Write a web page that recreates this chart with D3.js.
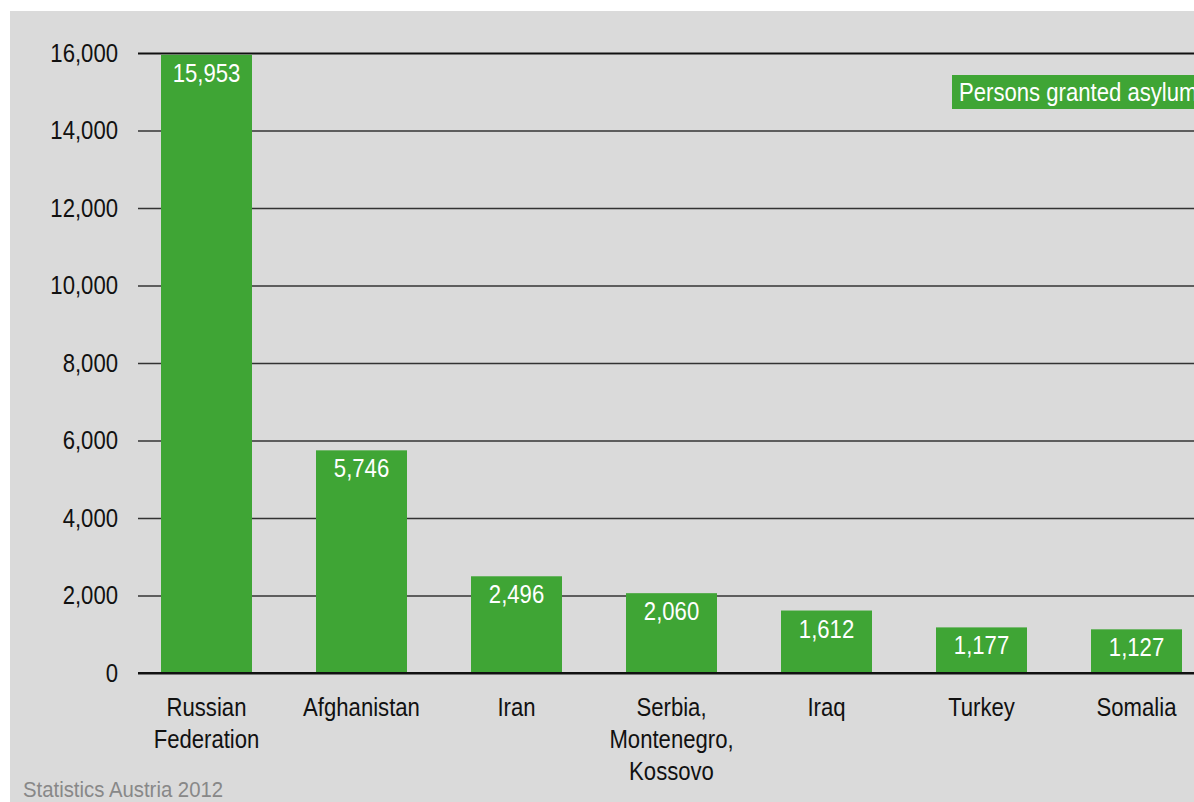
<!DOCTYPE html>
<html><head><meta charset="utf-8">
<script src="https://cdn.jsdelivr.net/npm/d3@7"></script>
<style>
html,body{margin:0;padding:0;background:#fff;}
svg{display:block;}
text{font-family:"Liberation Sans",Arial,sans-serif;}
</style></head>
<body>
<svg id="c" width="1194" height="802"></svg>
<script>
const categories = [["Russian","Federation"],["Afghanistan"],["Iran"],["Serbia,","Montenegro,","Kossovo"],["Iraq"],["Turkey"],["Somalia"]];
const values = [15953, 5746, 2496, 2060, 1612, 1177, 1127];
const yTicks = [0, 2000, 4000, 6000, 8000, 10000, 12000, 14000, 16000];
const seriesName = "Persons granted asylum";
const sourceText = "Statistics Austria 2012";

const SX = 0.885; // horizontal condensing to mimic a condensed face
const svg = d3.select("#c");
svg.append("rect").attr("x",10).attr("y",11).attr("width",1184).attr("height",791).attr("fill","#dadada");

const keys = categories.map((c,i)=>String(i));
const x = d3.scaleBand().domain(keys).range([129,1214]).paddingInner(64/155).paddingOuter(32/155);
const y = d3.scaleLinear().domain([0,16000]).range([673,53]);
const fmt = d3.format(",");

// gridlines + y labels
const yAxis = d3.axisLeft(y).tickValues(yTicks).tickSize(-(1194-138)).tickFormat(fmt).tickPadding(20);
const gy = svg.append("g").attr("transform","translate(138,0)").call(yAxis);
gy.select(".domain").remove();
gy.selectAll(".tick line").attr("stroke",d=> (d===0||d===16000)?"#111":"#333").attr("stroke-width",d=>(d===0||d===16000)?2:1.6);
gy.selectAll(".tick text").attr("font-size",25).attr("fill","#111")
  .attr("x",0).attr("transform",`translate(-20,0) scale(${SX},1)`);

// bars
svg.append("g").selectAll("rect").data(values).join("rect")
  .attr("x",(d,i)=>x(String(i))).attr("width",x.bandwidth())
  .attr("y",d=>y(d)).attr("height",d=>y(0)-y(d)).attr("fill","#3fa535");
svg.append("line").attr("x1",138).attr("x2",1194).attr("y1",y(0)).attr("y2",y(0)).attr("stroke","#111").attr("stroke-width",2);

// value labels
svg.append("g").selectAll("text").data(values).join("text")
  .attr("transform",(d,i)=>`translate(${x(String(i))+x.bandwidth()/2},${y(d)+27}) scale(${SX},1)`)
  .attr("text-anchor","middle").attr("fill","#fff").attr("font-size",25).text(d=>fmt(d));

// category labels
const cl = svg.append("g").selectAll("text").data(categories).join("text")
  .attr("transform",(d,i)=>`translate(${x(String(i))+x.bandwidth()/2},716) scale(${SX},1)`)
  .attr("text-anchor","middle").attr("fill","#111").attr("font-size",25);
cl.selectAll("tspan").data(d=>d).join("tspan")
  .attr("x",0).attr("dy",(d,i)=>i===0?0:32).text(d=>d);

// legend
svg.append("rect").attr("x",952).attr("y",75).attr("width",260).attr("height",34).attr("fill","#3fa535");
svg.append("text").attr("transform",`translate(959,101) scale(${SX},1)`).attr("fill","#fff").attr("font-size",25).text(seriesName);

// source
svg.append("text").attr("transform",`translate(23,797) scale(${SX},1)`).attr("fill","#888").attr("font-size",23).text(sourceText);
</script>
</body></html>
